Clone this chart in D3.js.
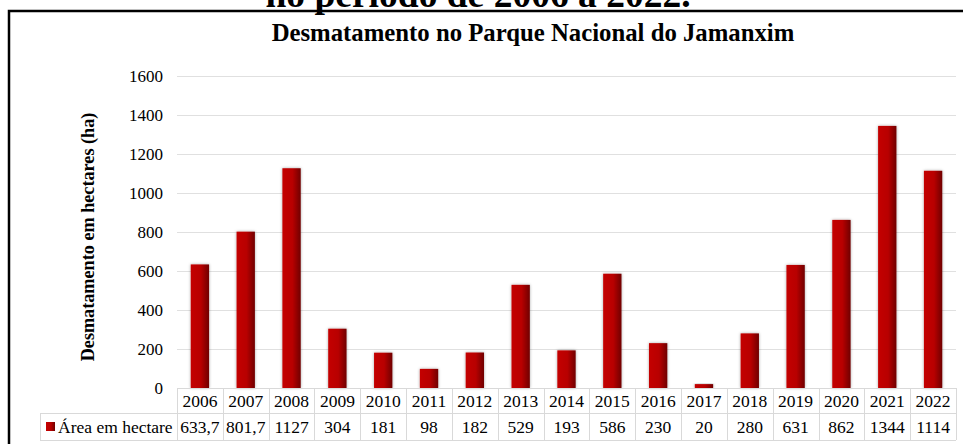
<!DOCTYPE html>
<html>
<head>
<meta charset="utf-8">
<script src="https://cdn.jsdelivr.net/npm/d3@7"></script>
<style>
  html, body { margin: 0; padding: 0; background: #fff; }
  svg { display: block; }
</style>
</head>
<body>
<svg id="chart" width="963" height="444"></svg>
<script>
// dados
const years = ["2006", "2007", "2008", "2009", "2010", "2011", "2012", "2013", "2014",
  "2015", "2016", "2017", "2018", "2019", "2020", "2021", "2022"];
const area = [633.7, 801.7, 1127, 304, 181, 98, 182, 529, 193, 586, 230, 20, 280, 631, 862, 1344, 1114];
const yTicks = [0, 200, 400, 600, 800, 1000, 1200, 1400, 1600];
const seriesName = "Área em hectare";

const width = 963, height = 444;
const plot = { left: 177, right: 956, top: 76, bottom: 388 };
const rowH = [25, 27];
const serif = '"Liberation Serif", "Times New Roman", serif';

const svg = d3.select("#chart");

// ajusta o tamanho da fonte para a largura medida no original
function fitWidth(sel, target) {
  const size = +sel.attr("font-size");
  const w = sel.node().getComputedTextLength();
  sel.attr("font-size", (size * target / w).toFixed(2));
  return sel;
}

const defs = svg.append("defs");
const grad = defs.append("linearGradient").attr("id", "barGrad")
  .attr("x1", "0%").attr("x2", "100%").attr("y1", "0%").attr("y2", "0%");
grad.append("stop").attr("offset", "0%").attr("stop-color", "#c40000");
grad.append("stop").attr("offset", "55%").attr("stop-color", "#b80000");
grad.append("stop").attr("offset", "100%").attr("stop-color", "#700000");

const shadow = defs.append("filter").attr("id", "shadow")
  .attr("x", "-40%").attr("y", "-10%").attr("width", "180%").attr("height", "120%");
shadow.append("feDropShadow").attr("dx", 0).attr("dy", 0)
  .attr("stdDeviation", 1.6).attr("flood-color", "#000").attr("flood-opacity", 0.35);

// parte do título de cima, cortada pela imagem
svg.append("text")
  .attr("x", 478).attr("y", 7)
  .attr("text-anchor", "middle")
  .style("font-family", serif)
  .attr("font-size", 30).attr("font-weight", "bold")
  .text("no período de 2006 a 2022.")
  .call(fitWidth, 425);

// moldura
svg.append("path")
  .attr("d", `M9,${height + 5} V11 H${width + 5}`)
  .attr("fill", "none").attr("stroke", "#000").attr("stroke-width", 2.5);

svg.append("text")
  .attr("x", 533).attr("y", 41)
  .attr("text-anchor", "middle")
  .style("font-family", serif)
  .attr("font-size", 22).attr("font-weight", "bold")
  .text("Desmatamento no Parque Nacional do Jamanxim")
  .call(fitWidth, 523);

const x = d3.scaleBand().domain(years).range([plot.left, plot.right]);
const xBar = d3.scaleBand().domain(years).range([plot.left, plot.right])
  .paddingInner(0.6).paddingOuter(0.3);
const y = d3.scaleLinear().domain([0, 1600]).range([plot.bottom, plot.top]);

// grade
svg.append("g")
  .selectAll("line")
  .data(yTicks.filter(d => d > 0))
  .join("line")
  .attr("x1", plot.left).attr("x2", plot.right)
  .attr("y1", d => Math.round(y(d)) + 0.5).attr("y2", d => Math.round(y(d)) + 0.5)
  .attr("stroke", "#e0e0e0").attr("stroke-width", 1);

// eixo y
const yAxis = svg.append("g")
  .attr("transform", `translate(${plot.left - 14},0)`)
  .call(d3.axisLeft(y).tickValues(yTicks).tickFormat(d3.format("d")).tickSize(0).tickPadding(0));
yAxis.select(".domain").remove();
yAxis.selectAll("text")
  .style("font-family", serif)
  .attr("font-size", 17).attr("fill", "#000");

svg.append("text")
  .attr("transform", `translate(94,237) rotate(-90)`)
  .attr("text-anchor", "middle")
  .style("font-family", serif)
  .attr("font-size", 15).attr("font-weight", "bold")
  .text("Desmatamento em hectares (ha)")
  .call(fitWidth, 249);

// barras
svg.append("g")
  .selectAll("rect")
  .data(area)
  .join("rect")
  .attr("x", (d, i) => xBar(years[i]))
  .attr("y", d => y(d))
  .attr("width", xBar.bandwidth())
  .attr("height", d => y(0) - y(d))
  .attr("fill", "url(#barGrad)")
  .attr("filter", "url(#shadow)");

// tabela de dados
const t = svg.append("g");
const r0 = plot.bottom, r1 = r0 + rowH[0], r2 = r1 + rowH[1];
const lineColor = "#d9d9d9";
const legendLeft = 40;
const tableFont = 17.5;

const hLines = [
  [plot.left, plot.right, r0],
  [legendLeft, plot.right, r1],
  [legendLeft, plot.right, r2]
];
t.selectAll("line.h")
  .data(hLines)
  .join("line").attr("class", "h")
  .attr("x1", d => d[0]).attr("x2", d => d[1])
  .attr("y1", d => d[2] + 0.5).attr("y2", d => d[2] + 0.5)
  .attr("stroke", lineColor);

const bounds = years.map(d => x(d)).concat([plot.right]);
t.selectAll("line.v")
  .data(bounds)
  .join("line").attr("class", "v")
  .attr("x1", d => Math.round(d) + 0.5).attr("x2", d => Math.round(d) + 0.5)
  .attr("y1", r0).attr("y2", r2)
  .attr("stroke", lineColor);
t.append("line")
  .attr("x1", legendLeft + 0.5).attr("x2", legendLeft + 0.5)
  .attr("y1", r1).attr("y2", r2)
  .attr("stroke", lineColor);

t.selectAll("text.year")
  .data(years)
  .join("text").attr("class", "year")
  .attr("x", d => x(d) + x.bandwidth() / 2)
  .attr("y", r0 + 19)
  .attr("text-anchor", "middle")
  .style("font-family", serif)
  .attr("font-size", tableFont)
  .text(d => d);

t.selectAll("text.val")
  .data(area)
  .join("text").attr("class", "val")
  .attr("x", (d, i) => x(years[i]) + x.bandwidth() / 2)
  .attr("y", r1 + 20)
  .attr("text-anchor", "middle")
  .style("font-family", serif)
  .attr("font-size", tableFont)
  .text(d => String(d).replace(".", ","));

t.append("rect")
  .attr("x", 46).attr("y", r1 + 9)
  .attr("width", 9).attr("height", 9)
  .attr("fill", "url(#barGrad)");
t.append("text")
  .attr("x", 58).attr("y", r1 + 20)
  .style("font-family", serif)
  .attr("font-size", tableFont)
  .text(seriesName);
</script>
</body>
</html>
